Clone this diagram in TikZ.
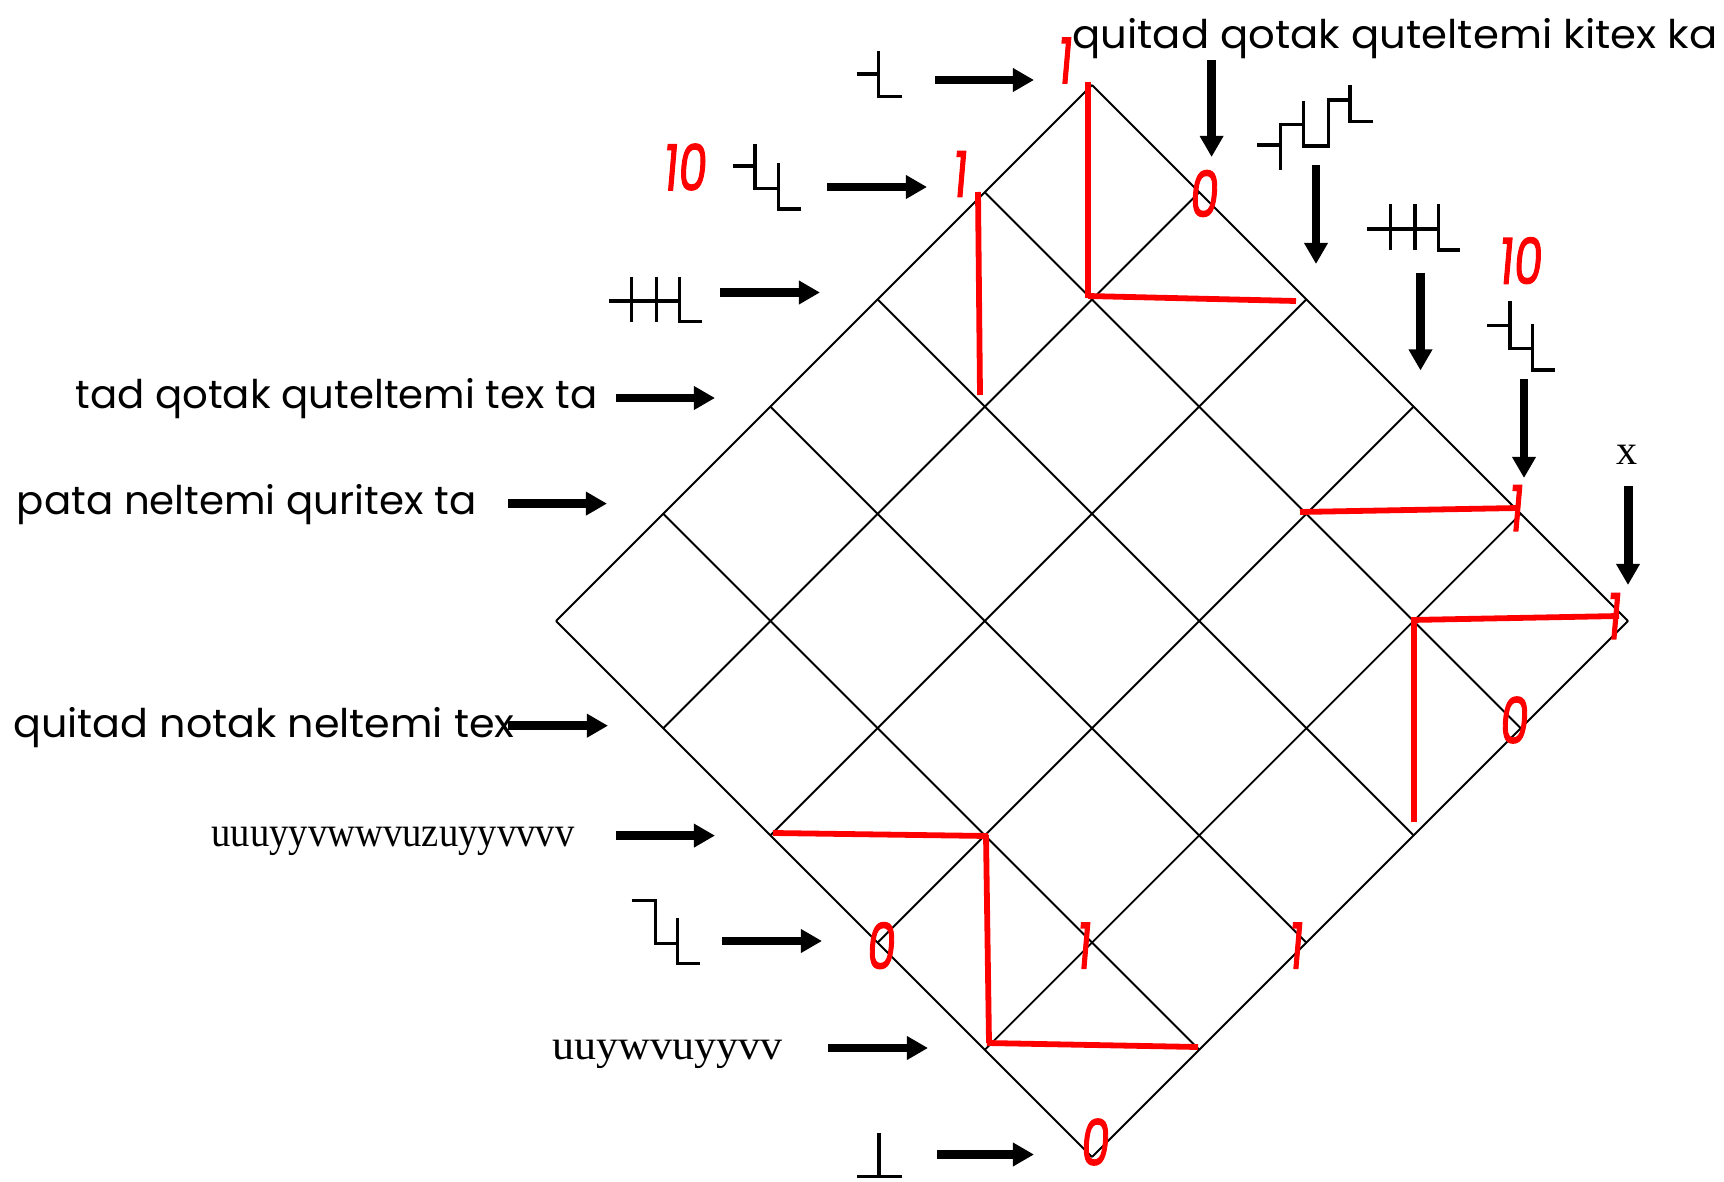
\documentclass[tikz,border=0pt]{standalone}
\usepackage{fontspec}
\usepackage{graphicx}
\setmainfont{Liberation Serif}
\newfontfamily\handfont{Poppins}
\newfontfamily\digitfont{Poppins}[FakeSlant=0.12,FakeBold=2]
\usetikzlibrary{arrows.meta,calc}
\newdimen\pxu \pxu=0.02cm
\newcommand{\fitw}[2]{\resizebox{#1\pxu}{\height}{#2}}
\newcommand{\rd}[1]{\scalebox{0.72}[1]{#1}}
\begin{document}
\begin{tikzpicture}[x=0.02cm,y=-0.02cm,
  gridline/.style={line width=1.1pt,black},
  redline/.style={line width=3.3pt,red},
  glyph/.style={line width=1.8pt,black},
  bigarrow/.style={line width=5.1pt,-{Triangle[length=12pt,width=12.8pt]}},
  hand/.style={font=\handfont\fontsize{22.5pt}{27pt}\selectfont,anchor=base west,inner sep=0pt},
  serif/.style={font=\fontsize{24pt}{28pt}\selectfont,anchor=base west,inner sep=0pt},
  dig/.style={font=\digitfont\fontsize{36pt}{40pt}\selectfont,text=red,inner sep=0pt}]
\useasboundingbox (0,0) rectangle (1724,1182);
% grid vertices
\foreach \i in {0,...,5}{\foreach \j in {0,...,5}{
  \coordinate (v\i\j) at ({1092+(\i-\j)*107.2},{85+(\i+\j)*107.2});}}
\foreach \k in {0,...,5}{
  \draw[gridline] (v\k0) -- (v\k5);
  \draw[gridline] (v0\k) -- (v5\k);}
% red strokes
\draw[redline] (1088,82) -- (1088,298);
\draw[redline] (1088,296) -- (1296,301);
\draw[redline] (978,192) -- (980,395);
\draw[redline] (1300,512) -- (1518,508);
\draw[redline] (1411,620) -- (1619,616);
\draw[redline] (1414,620) -- (1414,822);
\draw[redline] (773,833) -- (988,836);
\draw[redline] (986,835) -- (989,1043);
\draw[redline] (987,1043) -- (1198,1047);
% red digits
\node[dig] (r1) at (1064,60.5) {\rd{1}};
\node[dig] (r2) at (684,167) {\rd{10}};
\node[dig] (r3) at (959,174) {\rd{1}};
\node[dig] (r4) at (1203,193.5) {\rd{0}};
\node[dig] (r5) at (1519.5,260.6) {\rd{10}};
\node[dig] (r6) at (1515,508) {\rd{1}};
\node[dig] (r7) at (1613,616) {\rd{1}};
\node[dig] (r8) at (1513,720) {\rd{0}};
\node[dig] (r9) at (880,945.6) {\rd{0}};
\node[dig] (r10) at (1083,945.6) {\rd{1}};
\node[dig] (r11) at (1295,945.6) {\rd{1}};
\node[dig] (r12) at (1094,1142) {\rd{0}};
% horizontal arrows
\draw[bigarrow] (935,80) -- (1034,80);
\draw[bigarrow] (827,187) -- (927,187);
\draw[bigarrow] (720,292.5) -- (820,292.5);
\draw[bigarrow] (616,398) -- (715,398);
\draw[bigarrow] (508,503.6) -- (607,503.6);
\draw[bigarrow] (508,725.7) -- (608,725.7);
\draw[bigarrow] (616,835.6) -- (715,835.6);
\draw[bigarrow] (722,941) -- (822,941);
\draw[bigarrow] (828,1048) -- (928,1048);
\draw[bigarrow] (937,1154.5) -- (1034,1154.5);
% vertical arrows
\draw[bigarrow] (1211.6,60.5) -- (1211.6,157);
\draw[bigarrow] (1316,165) -- (1316,264);
\draw[bigarrow] (1420.5,272.7) -- (1420.5,370.5);
\draw[bigarrow] (1524,379) -- (1524,478);
\draw[bigarrow] (1628,486) -- (1628,585);
% step glyphs
\draw[glyph] (856.7,74) -- (878.3,74) (878.3,51) -- (878.3,96.7) -- (901.7,96.7);
\draw[glyph] (732.7,166) -- (755,166) (755,144) -- (755,188.3) -- (778.3,188.3)
  (778.3,163.3) -- (778.3,209) -- (801,209);
\draw[glyph] (609.3,301) -- (679.3,301) (631.7,276.7) -- (631.7,321.7)
  (656.7,276.7) -- (656.7,321.7) (679.3,276.7) -- (679.3,321.7) -- (701.7,321.7);
\draw[glyph] (1257.3,145) -- (1280.7,145) (1280.7,170) -- (1280.7,124.3) -- (1303.3,124.3)
  (1303.3,100.7) -- (1303.3,146) -- (1328.3,146) -- (1328.3,100) -- (1350,100)
  (1350,85) -- (1350,121.7) -- (1373.3,121.7);
\draw[glyph] (1367.3,229) -- (1438.3,229) (1390.7,204) -- (1390.7,250)
  (1415,204) -- (1415,250) (1438.3,204) -- (1438.3,250) -- (1460,250);
\draw[glyph] (1487.3,325.7) -- (1510,325.7) (1510,301) -- (1510,348.3) -- (1532.3,348.3)
  (1532.3,324) -- (1532.3,370) -- (1555,370);
\draw[glyph] (631.7,900.7) -- (655.8,900.7) -- (655.8,943.3) -- (677.2,943.3)
  (677.2,918.3) -- (677.2,963.3) -- (699.6,963.3);
\draw[glyph] (879,1132.7) -- (879,1176.7) (857,1176.7) -- (901.8,1176.7);
% texts
\node[hand] (t0) at (1072,49) {\fitw{645}{quitad qotak quteltemi kitex ka}};
\node[hand] (t1) at (75,408) {\fitw{522}{tad qotak quteltemi tex ta}};
\node[hand] (t2) at (16.5,514.6) {\fitw{459.5}{pata neltemi quritex ta}};
\node[hand] (t3) at (13,737) {\fitw{501}{quitad notak neltemi tex}};
\node[serif] (t4) at (211,846.6) {\fitw{363}{uuuyyvwwvuzuyyvvvv}};
\node[serif] (t5) at (552,1059) {\fitw{230}{uuywvuyyvv}};
\node[serif,anchor=base] (t6) at (1627,464) {x};
\end{tikzpicture}
\end{document}
